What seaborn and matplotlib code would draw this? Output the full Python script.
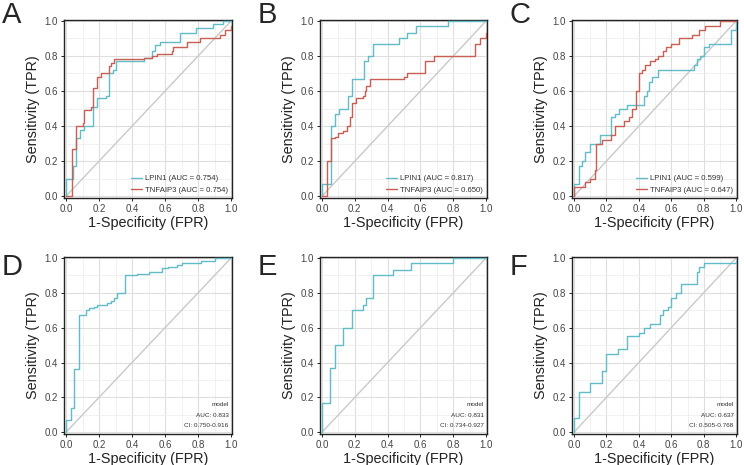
import matplotlib
matplotlib.use("Agg")
import matplotlib.pyplot as plt
import seaborn as sns
from matplotlib.ticker import MultipleLocator

# ROC step vertices (fpr where tpr rises, tpr after the rise)
a_lpin1_fpr = [0, 0, 0.045, 0.06, 0.085, 0.11, 0.165, 0.19, 0.24, 0.26, 0.285, 0.30, 0.47, 0.52, 0.54, 0.57, 0.69, 0.79, 0.89, 0.95, 1.0]
a_lpin1_tpr = [0, 0.10, 0.17, 0.33, 0.38, 0.40, 0.51, 0.56, 0.57, 0.70, 0.72, 0.77, 0.79, 0.83, 0.86, 0.88, 0.93, 0.96, 0.98, 1.0, 1.0]
a_tnf_fpr = [0, 0.035, 0.06, 0.10, 0.11, 0.15, 0.165, 0.185, 0.21, 0.26, 0.27, 0.29, 0.47, 0.52, 0.55, 0.64, 0.65, 0.73, 0.81, 0.93, 0.96, 1.0]
a_tnf_tpr = [0, 0.27, 0.40, 0.42, 0.49, 0.51, 0.62, 0.68, 0.70, 0.74, 0.76, 0.78, 0.79, 0.80, 0.81, 0.83, 0.85, 0.88, 0.90, 0.92, 0.95, 0.97]

b_lpin1_fpr = [0, 0, 0.055, 0.08, 0.105, 0.16, 0.185, 0.255, 0.28, 0.31, 0.47, 0.52, 0.57, 0.77, 1.0]
b_lpin1_tpr = [0, 0.07, 0.40, 0.47, 0.50, 0.57, 0.67, 0.77, 0.80, 0.87, 0.90, 0.93, 0.97, 1.0, 1.0]
b_tnf_fpr = [0, 0.03, 0.055, 0.08, 0.10, 0.13, 0.15, 0.17, 0.18, 0.21, 0.25, 0.26, 0.27, 0.29, 0.50, 0.52, 0.61, 0.63, 0.68, 0.90, 0.93, 0.96, 1.0]
b_tnf_tpr = [0, 0.20, 0.33, 0.34, 0.36, 0.37, 0.40, 0.45, 0.53, 0.56, 0.57, 0.60, 0.63, 0.67, 0.68, 0.70, 0.70, 0.77, 0.80, 0.80, 0.87, 0.90, 0.93]

c_lpin1_fpr = [0, 0, 0.03, 0.05, 0.07, 0.10, 0.16, 0.23, 0.25, 0.28, 0.33, 0.43, 0.45, 0.46, 0.48, 0.52, 0.73, 0.74, 0.76, 0.78, 0.80, 0.83, 0.97, 1.0]
c_lpin1_tpr = [0, 0.07, 0.17, 0.20, 0.25, 0.30, 0.35, 0.45, 0.47, 0.50, 0.52, 0.57, 0.60, 0.65, 0.68, 0.72, 0.72, 0.75, 0.78, 0.80, 0.85, 0.87, 0.95, 1.0]
c_tnf_fpr = [0, 0, 0.05, 0.07, 0.10, 0.13, 0.135, 0.17, 0.23, 0.25, 0.31, 0.34, 0.36, 0.38, 0.40, 0.42, 0.44, 0.47, 0.50, 0.52, 0.55, 0.57, 0.60, 0.65, 0.73, 0.77, 0.81, 0.90, 1.0]
c_tnf_tpr = [0, 0.05, 0.05, 0.08, 0.10, 0.15, 0.30, 0.32, 0.35, 0.40, 0.43, 0.45, 0.50, 0.60, 0.70, 0.72, 0.75, 0.77, 0.78, 0.80, 0.83, 0.85, 0.87, 0.90, 0.92, 0.95, 0.97, 1.0, 1.0]

d_fpr = [0, 0, 0.03, 0.05, 0.08, 0.12, 0.14, 0.17, 0.19, 0.25, 0.27, 0.29, 0.31, 0.36, 0.43, 0.50, 0.58, 0.62, 0.67, 0.70, 0.82, 0.90, 1.0]
d_tpr = [0, 0.07, 0.14, 0.36, 0.67, 0.70, 0.71, 0.72, 0.73, 0.74, 0.75, 0.77, 0.80, 0.90, 0.91, 0.92, 0.94, 0.95, 0.96, 0.97, 0.98, 1.0, 1.0]

e_fpr = [0, 0, 0.05, 0.08, 0.13, 0.18, 0.25, 0.27, 0.31, 0.43, 0.54, 0.80, 1.0]
e_tpr = [0, 0.17, 0.37, 0.50, 0.60, 0.70, 0.73, 0.77, 0.90, 0.93, 0.97, 1.0, 1.0]

f_fpr = [0, 0, 0.03, 0.10, 0.17, 0.20, 0.27, 0.33, 0.40, 0.43, 0.47, 0.53, 0.55, 0.58, 0.60, 0.63, 0.66, 0.76, 0.77, 0.80, 1.0]
f_tpr = [0, 0.08, 0.23, 0.28, 0.35, 0.45, 0.48, 0.55, 0.57, 0.60, 0.62, 0.67, 0.70, 0.72, 0.77, 0.80, 0.85, 0.92, 0.95, 0.97, 0.98]

top_panels = [
    ("A", a_lpin1_fpr, a_lpin1_tpr, "0.754", a_tnf_fpr, a_tnf_tpr, "0.754"),
    ("B", b_lpin1_fpr, b_lpin1_tpr, "0.817", b_tnf_fpr, b_tnf_tpr, "0.650"),
    ("C", c_lpin1_fpr, c_lpin1_tpr, "0.599", c_tnf_fpr, c_tnf_tpr, "0.647"),
]
bottom_panels = [
    ("D", d_fpr, d_tpr, "0.833", "0.750-0.916"),
    ("E", e_fpr, e_tpr, "0.831", "0.734-0.927"),
    ("F", f_fpr, f_tpr, "0.637", "0.505-0.768"),
]

TEAL = "#62bcc8"
RED = "#c85e54"

sns.set_style("ticks")
plt.rcParams["font.family"] = ["Liberation Sans", "DejaVu Sans"]

fig = plt.figure(figsize=(7.44, 4.65), dpi=100)
W, H = 744, 465
lefts = [64, 320, 572]
widths = [168, 167, 165]


def style_axes(ax):
    ax.set_xlim(-0.012, 1.005)
    ax.set_ylim(-0.01, 1.005)
    ax.xaxis.set_major_locator(MultipleLocator(0.2))
    ax.yaxis.set_major_locator(MultipleLocator(0.2))
    ax.xaxis.set_minor_locator(MultipleLocator(0.1))
    ax.yaxis.set_minor_locator(MultipleLocator(0.1))
    ax.grid(which="major", color="#dedede", linewidth=0.8)
    ax.grid(which="minor", color="#efefef", linewidth=0.6)
    ax.tick_params(which="minor", length=0)
    ax.tick_params(which="major", length=2.5, width=0.7, labelsize=7, colors="#444444", pad=2)
    ax.tick_params(which="major", color="#222222")
    for s in ax.spines.values():
        s.set_color("#222222")
        s.set_linewidth(1.0)
    ax.set_axisbelow(True)
    ax.plot([0, 1], [0, 1], color="#c9c9c9", linewidth=1.0, zorder=1)
    ax.set_xlabel("1-Specificity (FPR)", fontsize=10.4, labelpad=1, color="#222222")
    ax.set_ylabel("Sensitivity (TPR)", fontsize=10.4, labelpad=3, color="#222222")


for i, (letter, f1, t1, auc1, f2, t2, auc2) in enumerate(top_panels):
    ax = fig.add_axes([lefts[i] / W, (H - 198) / H, widths[i] / W, 178 / H])
    style_axes(ax)
    sns.lineplot(x=f1, y=t1, ax=ax, color=TEAL, linewidth=1.0, drawstyle="steps-post",
                 estimator=None, sort=False, label=f"LPIN1 (AUC = {auc1})", zorder=3)
    sns.lineplot(x=f2, y=t2, ax=ax, color=RED, linewidth=1.0, drawstyle="steps-post",
                 estimator=None, sort=False, label=f"TNFAIP3 (AUC = {auc2})", zorder=3)
    leg = ax.legend(loc="lower right", frameon=False, fontsize=5.6, handlelength=1.4,
                    handletextpad=0.4, borderaxespad=0.1, labelspacing=0.55)
    for t in leg.get_texts():
        t.set_color("#333333")
    fig.text((lefts[i] - 62) / W, (H - 23) / H, letter, fontsize=21, ha="left", va="baseline")

for i, (letter, fp, tp, auc, ci) in enumerate(bottom_panels):
    ax = fig.add_axes([lefts[i] / W, (H - 434) / H, widths[i] / W, 177 / H])
    style_axes(ax)
    sns.lineplot(x=fp, y=tp, ax=ax, color=TEAL, linewidth=1.0, drawstyle="steps-post",
                 estimator=None, sort=False, zorder=3)
    ax.text(0.98, 0.165, "model", transform=ax.transAxes, ha="right", va="center", fontsize=4.6, color="#333333")
    ax.text(0.98, 0.107, f"AUC: {auc}", transform=ax.transAxes, ha="right", va="center", fontsize=4.6, color="#333333")
    ax.text(0.98, 0.05, f"CI: {ci}", transform=ax.transAxes, ha="right", va="center", fontsize=4.6, color="#333333")
    fig.text((lefts[i] - 62) / W, (H - 275) / H, letter, fontsize=21, ha="left", va="baseline")

fig.savefig("out.png", dpi=100)
